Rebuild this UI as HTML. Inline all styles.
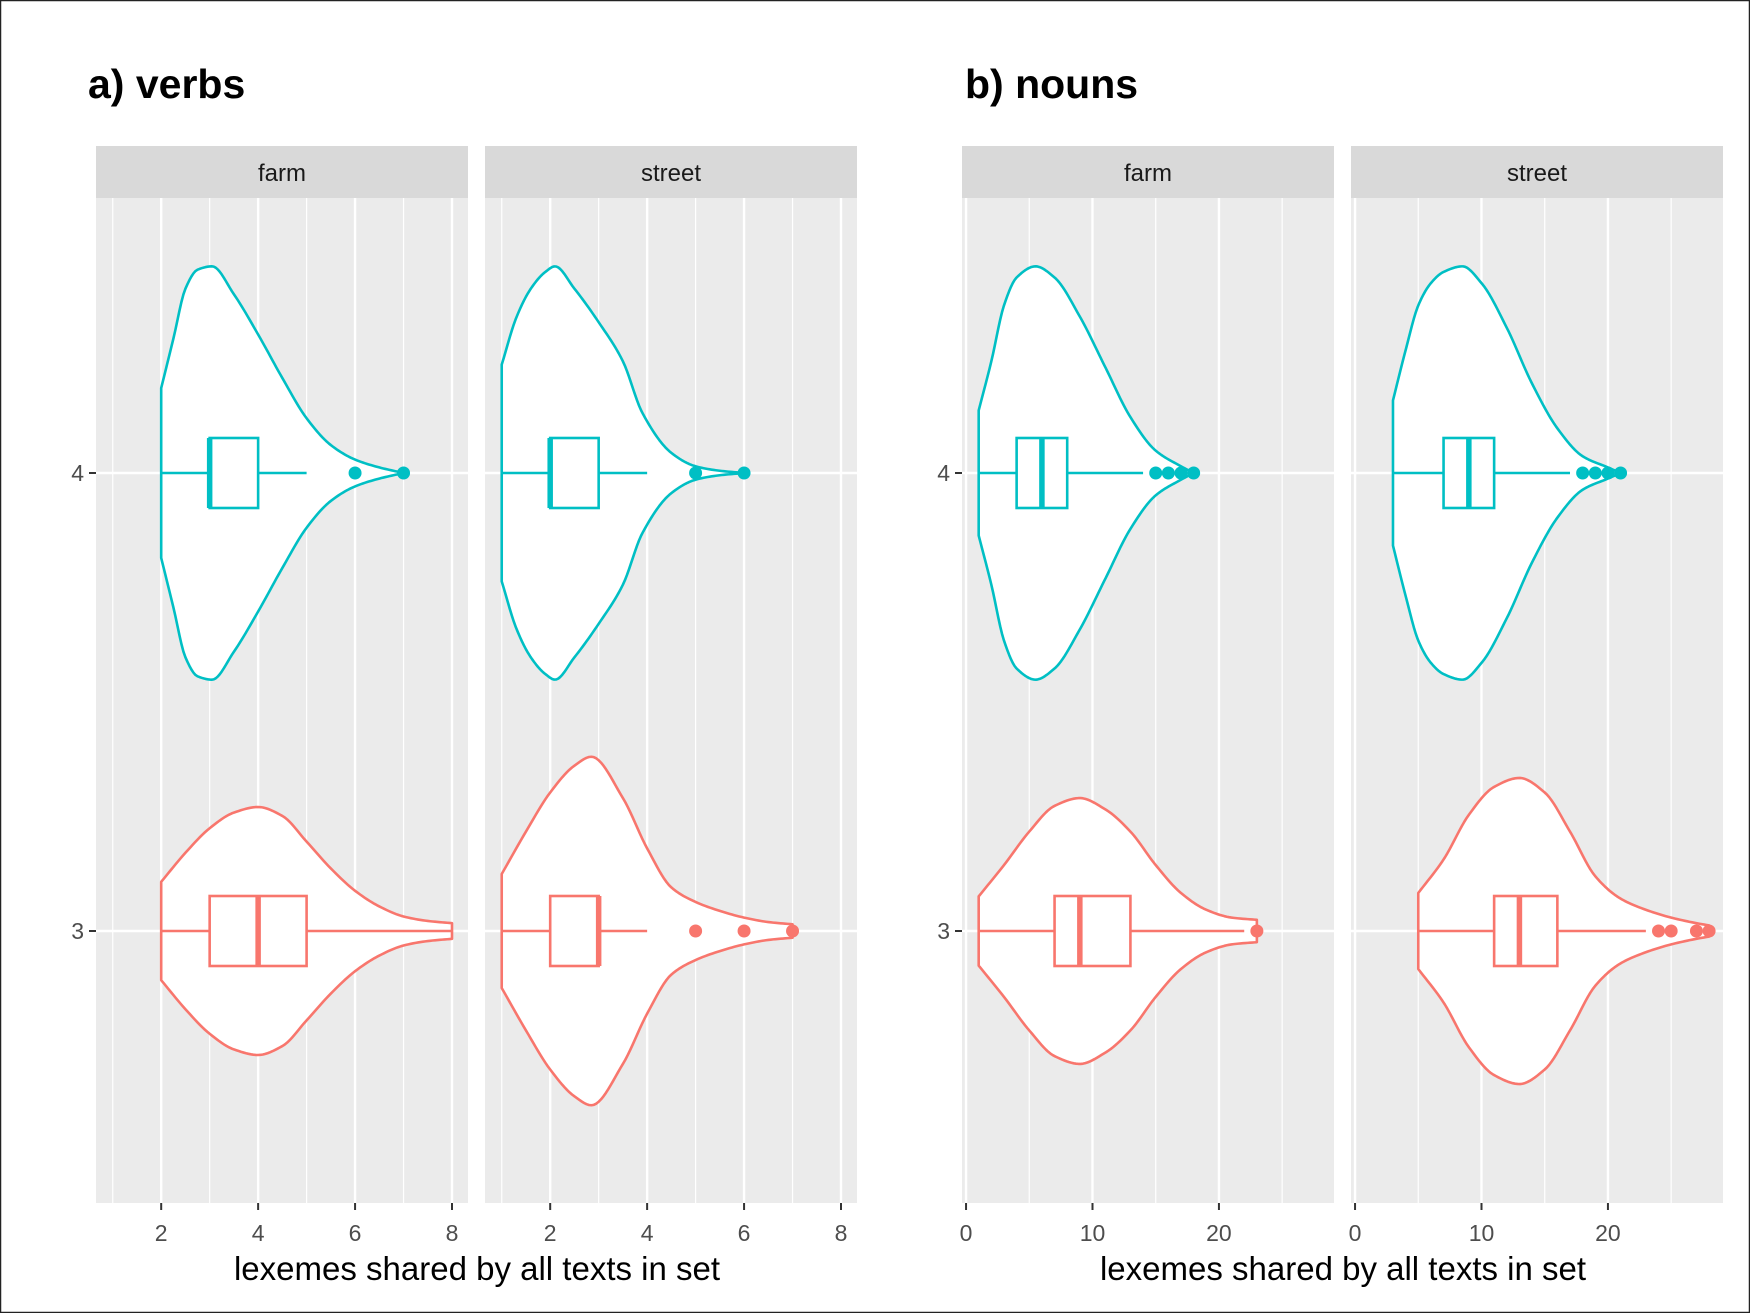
<!DOCTYPE html>
<html><head><meta charset="utf-8"><style>
html,body{margin:0;padding:0;background:#fff}
svg{display:block}
text{font-family:"Liberation Sans",Arial,sans-serif}
</style></head><body>
<svg id="chart" width="1750" height="1313" viewBox="0 0 1750 1313" xmlns="http://www.w3.org/2000/svg">
<rect x="0.5" y="0.5" width="1749" height="1312" fill="#fff" stroke="#222" stroke-width="1.5"/>
<text x="88" y="98" font-size="41" font-weight="bold">a) verbs</text>
<text x="965" y="98" font-size="41" font-weight="bold">b) nouns</text>
<text x="477" y="1280" font-size="33" text-anchor="middle" fill="#000">lexemes shared by all texts in set</text>
<text x="1343" y="1280" font-size="33" text-anchor="middle" fill="#000">lexemes shared by all texts in set</text>
<g id="plots"></g>
</svg>
<script>
// ---- data ----
const categories = [3, 4];
const facets = ["farm", "street", "farm", "street"];
const verbTicks = [2, 4, 6, 8];
const nounTicks = [0, 10, 20];
const verbMinor = [1, 3, 5, 7];
const nounMinor = [5, 15, 25];

// violin profiles: x values and density (relative half-width)
const vFarm4X = [2,2.25,2.5,2.75,3.05,3.5,4,4.5,5,5.5,6,6.5,7];
const vFarm4D = [76,120,165,182,185,160,124,85,49,25,12,5,0];
const vStreet4X = [1,1.3,1.6,1.9,2.1,2.5,3,3.5,3.9,4.5,5,5.5,6];
const vStreet4D = [97,139,165,180,185,165,135,100,54,18,6,2,0];
const vFarm3X = [2,2.5,3,3.5,4,4.5,5,5.5,6,6.5,7,7.5,8];
const vFarm3D = [44,70,92,106,111,103,80,56,36,22,13,9,7];
const vStreet3X = [1,1.5,2,2.5,2.85,3.5,4,4.5,5,5.5,6,6.5,7];
const vStreet3D = [51,89,124,148,156,119,74,39,26,18,12,8,6];
const nFarm4X = [1,2,3,4,5.5,7,9,11,13,15,17,18];
const nFarm4D = [56,100,150,175,185,175,140,95,50,20,6,0];
const nStreet4X = [3,4,5,6,7,8.5,10,12,14,16,18,20,21];
const nStreet4D = [65,110,150,170,180,185,170,130,80,40,15,5,0];
const nFarm3X = [1,3,5,7,9,11,13,15,17,19,21,23];
const nFarm3D = [31,59,89,112,119,109,89,59,34,19,12,10];
const nStreet3X = [5,7,9,11,13,15,17,19,21,23,25,27,28];
const nStreet3D = [34,64,104,129,137,124,89,49,29,19,12,7,5];

// box stats: [lowerWhisker, q1, median, q3, upperWhisker]
const vFarm4Box = [2,3,3,4,5];     const vFarm4Out = [6,7];
const vStreet4Box = [1,2,2,3,4];   const vStreet4Out = [5,6];
const vFarm3Box = [2,3,4,5,8];     const vFarm3Out = [];
const vStreet3Box = [1,2,3,3,4];   const vStreet3Out = [5,6,7];
const nFarm4Box = [1,4,6,8,14];    const nFarm4Out = [15,16,17,18];
const nStreet4Box = [3,7,9,11,17]; const nStreet4Out = [18,19,20,21];
const nFarm3Box = [1,7,9,13,22];   const nFarm3Out = [23];
const nStreet3Box = [5,11,13,16,23]; const nStreet3Out = [24,25,27,28];

// ---- layout ----
const NS = "http://www.w3.org/2000/svg";
const g = document.getElementById("plots");
const TOP = 198, BOT = 1203, STRIP_TOP = 146;
const COL = {3: "#F8766D", 4: "#00BFC4"};
function yScale(c){ return 473 - (c - 4) * 458; }
const densK = 458 / 410;

function mk(tag, attrs, parent){
  const e = document.createElementNS(NS, tag);
  for (const k in attrs) e.setAttribute(k, attrs[k]);
  (parent || g).appendChild(e);
  return e;
}

// monotone cubic interpolation (Fritsch-Carlson)
function monotone(xs, ys){
  const n = xs.length, dx = [], m = [], t = new Array(n);
  for (let i = 0; i < n-1; i++){ dx.push(xs[i+1]-xs[i]); m.push((ys[i+1]-ys[i])/dx[i]); }
  t[0] = m[0]; t[n-1] = m[n-2];
  for (let i = 1; i < n-1; i++){
    if (m[i-1]*m[i] <= 0) t[i] = 0;
    else { const w1 = 2*dx[i]+dx[i-1], w2 = dx[i]+2*dx[i-1]; t[i] = (w1+w2)/(w1/m[i-1]+w2/m[i]); }
  }
  return function(x){
    let i = 0; while (i < n-2 && x > xs[i+1]) i++;
    const h = dx[i], s = (x - xs[i]) / h;
    const h00 = 2*s*s*s-3*s*s+1, h10 = s*s*s-2*s*s+s, h01 = -2*s*s*s+3*s*s, h11 = s*s*s-s*s;
    return h00*ys[i] + h10*h*t[i] + h01*ys[i+1] + h11*h*t[i+1];
  };
}

const panels = [
  {x:96,  w:372, d0:0.655, d1:8.33, ticks:verbTicks, minor:verbMinor, yLabels:true},
  {x:485, w:372, d0:0.655, d1:8.33, ticks:verbTicks, minor:verbMinor, yLabels:false},
  {x:962, w:372, d0:-0.32, d1:29.1, ticks:nounTicks, minor:nounMinor, yLabels:true},
  {x:1351,w:372, d0:-0.32, d1:29.1, ticks:nounTicks, minor:nounMinor, yLabels:false}
];
const series = [
  [{c:4,x:vFarm4X,d:vFarm4D,b:vFarm4Box,o:vFarm4Out},{c:3,x:vFarm3X,d:vFarm3D,b:vFarm3Box,o:vFarm3Out}],
  [{c:4,x:vStreet4X,d:vStreet4D,b:vStreet4Box,o:vStreet4Out},{c:3,x:vStreet3X,d:vStreet3D,b:vStreet3Box,o:vStreet3Out}],
  [{c:4,x:nFarm4X,d:nFarm4D,b:nFarm4Box,o:nFarm4Out},{c:3,x:nFarm3X,d:nFarm3D,b:nFarm3Box,o:nFarm3Out}],
  [{c:4,x:nStreet4X,d:nStreet4D,b:nStreet4Box,o:nStreet4Out},{c:3,x:nStreet3X,d:nStreet3D,b:nStreet3Box,o:nStreet3Out}]
];

panels.forEach((p, pi) => {
  const xs = v => p.x + (v - p.d0) / (p.d1 - p.d0) * p.w;
  const pg = mk("g", {});
  
  
  const bg = mk("rect", {x:p.x, y:TOP, width:p.w, height:BOT-TOP, fill:"#EBEBEB"}, pg);
  
  
  const st = mk("rect", {x:p.x, y:STRIP_TOP, width:p.w, height:TOP-STRIP_TOP, fill:"#D9D9D9"}, pg);
  
  
  const stt = mk("text", {x:p.x + p.w/2, y:181, "font-size":24, "text-anchor":"middle", fill:"#1a1a1a"}, pg);
  stt.textContent = facets[pi];
  
  
  p.minor.forEach(v => {
    const l = mk("line", {x1:xs(v), x2:xs(v), y1:TOP, y2:BOT, stroke:"#fff", "stroke-width":1.2}, pg);
    
    
  });
  p.ticks.forEach(v => {
    const l = mk("line", {x1:xs(v), x2:xs(v), y1:TOP, y2:BOT, stroke:"#fff", "stroke-width":2.4}, pg);
    
    
    const t = mk("line", {x1:xs(v), x2:xs(v), y1:BOT, y2:BOT+7, stroke:"#333", "stroke-width":2}, pg);
    
    
    const tl = mk("text", {x:xs(v), y:BOT+38, "font-size":23, "text-anchor":"middle", fill:"#4D4D4D"}, pg);
    tl.textContent = v;
    
    
  });
  categories.forEach(c => {
    const l = mk("line", {x1:p.x, x2:p.x+p.w, y1:yScale(c), y2:yScale(c), stroke:"#fff", "stroke-width":2.4}, pg);
    
    
    if (p.yLabels){
      const t = mk("line", {x1:p.x-7, x2:p.x, y1:yScale(c), y2:yScale(c), stroke:"#333", "stroke-width":2}, pg);
      
      
      const tl = mk("text", {x:p.x-12, y:yScale(c)+8, "font-size":23, "text-anchor":"end", fill:"#4D4D4D"}, pg);
      tl.textContent = c;
      
      
    }
  });
  series[pi].forEach(s => {
    const cy = yScale(s.c), col = COL[s.c];
    const f = monotone(s.x, s.d);
    const x0 = s.x[0], x1 = s.x[s.x.length-1], N = 120;
    const top = [], bot = [];
    for (let i = 0; i <= N; i++){
      const v = x0 + (x1 - x0) * i / N;
      const hw = Math.max(0, f(v)) * densK;
      top.push(xs(v).toFixed(2) + "," + (cy - hw).toFixed(2));
      bot.push(xs(v).toFixed(2) + "," + (cy + hw).toFixed(2));
    }
    const d = "M" + top.join("L") + "L" + bot.reverse().join("L") + "Z";
    const vio = mk("path", {d:d, fill:"#fff", stroke:col, "stroke-width":2.6, "stroke-linejoin":"round"}, pg);
    
    
    const b = s.b, h = 35;
    const w1 = mk("line", {x1:xs(b[0]), x2:xs(b[1]), y1:cy, y2:cy, stroke:col, "stroke-width":2.6}, pg);
    
    
    const w2 = mk("line", {x1:xs(b[3]), x2:xs(b[4]), y1:cy, y2:cy, stroke:col, "stroke-width":2.6}, pg);
    
    
    const bx = mk("rect", {x:xs(b[1]), y:cy-h, width:xs(b[3])-xs(b[1]), height:2*h, fill:"#fff", stroke:col, "stroke-width":2.6}, pg);
    
    
    const md = mk("line", {x1:xs(b[2]), x2:xs(b[2]), y1:cy-h, y2:cy+h, stroke:col, "stroke-width":5.5}, pg);
    
    
    s.o.forEach(v => {
      const pt = mk("circle", {cx:xs(v), cy:cy, r:6.5, fill:col}, pg);
      
      
    });
  });
});
</script>
</body></html>
